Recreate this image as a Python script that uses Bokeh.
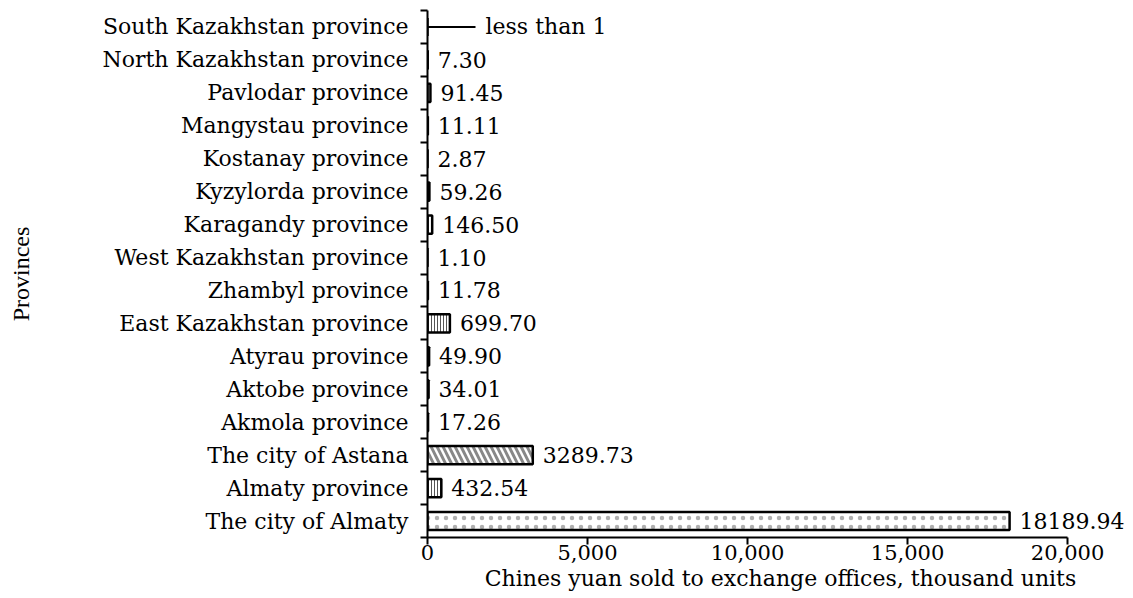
from bokeh.plotting import figure
from bokeh.models import ColumnDataSource, FixedTicker, NumeralTickFormatter, Range1d
from bokeh.core.properties import value
from bokeh.embed import file_html
from bokeh.resources import INLINE

# ---- data (bottom to top) ----
provinces = [
    "The city of Almaty", "Almaty province", "The city of Astana", "Akmola province",
    "Aktobe province", "Atyrau province", "East Kazakhstan province", "Zhambyl province",
    "West Kazakhstan province", "Karagandy province", "Kyzylorda province",
    "Kostanay province", "Mangystau province", "Pavlodar province",
    "North Kazakhstan province", "South Kazakhstan province",
]
values = [18189.94, 432.54, 3289.73, 17.26, 34.01, 49.90, 699.70, 11.78,
          1.10, 146.50, 59.26, 2.87, 11.11, 91.45, 7.30, 0.5]
value_labels = ["18189.94", "432.54", "3289.73", "17.26", "34.01", "49.90", "699.70",
                "11.78", "1.10", "146.50", "59.26", "2.87", "11.11", "91.45", "7.30",
                "less than 1"]
x_ticks = [0, 5000, 10000, 15000, 20000]

# ---- styles ----
FONT = "DejaVu Serif"
LEADER_LEN = 1500
style = {
    "The city of Almaty": ("dot", "#b0b0b0", 9, 1),
    "The city of Astana": ("left_diagonal_line", "#888888", 12, 3),
    "Almaty province": ("vertical_line", "#555555", 3, 1),
    "East Kazakhstan province": ("vertical_line", "#555555", 3, 1),
    "Karagandy province": ("vertical_line", "#555555", 3, 1),
}
default_style = (" ", "black", 1, 1)

ys = list(range(len(provinces)))
hp, hc, hs, hw = zip(*[style.get(n, default_style) for n in provinces])
bar_vals = [v if v >= 1 else 0 for v in values]
label_x = [v if v >= 1 else LEADER_LEN for v in values]

src = ColumnDataSource(dict(y=ys, value=bar_vals, lx=label_x, label=value_labels,
                            hp=list(hp), hc=list(hc), hs=list(hs), hw=list(hw)))

p = figure(width=1133, height=598, x_range=Range1d(0, 22062), y_range=Range1d(-0.5, 15.5),
           output_backend="svg", toolbar_location=None,
           min_border_left=427, min_border_right=0, min_border_top=10, min_border_bottom=61)
p.outline_line_color = None
p.grid.visible = False
p.background_fill_color = "white"

p.hbar(y="y", left=0, right="value", height=0.55, source=src,
       fill_color="white", line_color="black", line_width=2.5,
       hatch_pattern="hp", hatch_color="hc", hatch_scale="hs", hatch_weight="hw")

# "less than 1" leader line
small = [i for i, v in enumerate(values) if v < 1]
p.segment(x0=[0] * len(small), x1=[LEADER_LEN] * len(small), y0=[ys[i] for i in small],
          y1=[ys[i] for i in small], line_color="black", line_width=2)

p.text(x="lx", y="y", text="label", source=src, x_offset=10, text_baseline="middle",
       text_align="left", text_font=value(FONT), text_font_size="22px", text_color="black")

# x axis
xa = p.xaxis[0]
xa.bounds = (0, 20000)
xa.ticker = FixedTicker(ticks=x_ticks)
xa.formatter = NumeralTickFormatter(format="0,0")
xa.minor_tick_line_color = None
xa.major_tick_in = 0
xa.major_tick_out = 7
xa.major_tick_line_width = 2
xa.axis_line_width = 2
xa.major_label_text_font = FONT
xa.major_label_text_font_size = "21px"
xa.major_label_standoff = 0
xa.major_label_text_color = "black"
xa.axis_label = "Chines yuan sold to exchange offices, thousand units"
xa.axis_label_text_font = FONT
xa.axis_label_text_font_size = "22px"
xa.axis_label_text_font_style = "normal"
xa.axis_label_text_color = "black"
xa.axis_label_standoff = 3

# y axis
ya = p.yaxis[0]
ya.ticker = FixedTicker(ticks=ys, minor_ticks=[i - 0.5 for i in range(len(provinces) + 1)])
ya.major_label_overrides = {i: n for i, n in zip(ys, provinces)}
ya.major_tick_line_color = None
ya.major_tick_in = 0
ya.major_tick_out = 0
ya.minor_tick_in = 0
ya.minor_tick_out = 7
ya.minor_tick_line_width = 2
ya.axis_line_width = 2
ya.major_label_standoff = 12
ya.major_label_text_font = FONT
ya.major_label_text_font_size = "22px"
ya.major_label_text_color = "black"
ya.axis_label = "Provinces"
ya.axis_label_text_font = "Liberation Serif"
ya.axis_label_text_font_size = "24px"
ya.axis_label_text_font_style = "normal"
ya.axis_label_text_color = "black"
ya.axis_label_standoff = 65

open("out.html", "w").write(file_html(p, INLINE))
